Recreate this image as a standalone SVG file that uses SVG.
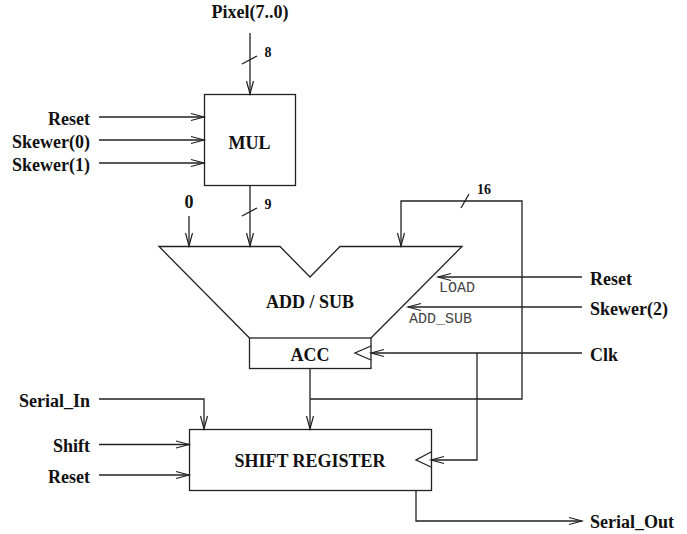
<svg xmlns="http://www.w3.org/2000/svg" width="687" height="534" viewBox="0 0 687 534">
<style>
.l{font-family:"Liberation Serif","Times New Roman",serif;font-weight:bold;font-size:18px;fill:#111}
.e{text-anchor:end}
.m{text-anchor:middle}
.s{font-size:14px}
.c{font-family:"Liberation Mono","Courier New",monospace;font-size:15px;fill:#444;font-weight:normal}
.w{fill:none;stroke:#222;stroke-width:1.3}
</style>
<defs>
<marker id="a" markerUnits="userSpaceOnUse" markerWidth="16" markerHeight="14" refX="13" refY="6" orient="auto" overflow="visible"><path d="M0 2.500L13 6L0 9.500" fill="none" stroke="#222" stroke-width="1.2"/></marker>
</defs>
<g id="connectors">
<path class="w" d="M250 33V94" marker-end="url(#a)"/>
<path class="w" d="M242 64L257 56"/>
<path class="w" d="M99 117H204" marker-end="url(#a)"/>
<path class="w" d="M99 140H204" marker-end="url(#a)"/>
<path class="w" d="M99 163H204" marker-end="url(#a)"/>
<path class="w" d="M250 185V246" marker-end="url(#a)"/>
<path class="w" d="M242 216L257 208"/>
<path class="w" d="M189 216V246" marker-end="url(#a)"/>
<path class="w" d="M310 399H522V201H401V246" marker-end="url(#a)"/>
<path class="w" d="M461 208L469 194"/>
<path class="w" d="M582 277H438" marker-end="url(#a)"/>
<path class="w" d="M582 307H408" marker-end="url(#a)"/>
<path class="w" d="M582 353H371" marker-end="url(#a)"/>
<path class="w" d="M477 353V460H431" marker-end="url(#a)"/>
<path class="w" d="M310 368V429" marker-end="url(#a)"/>
<path class="w" d="M99 399H204V429" marker-end="url(#a)"/>
<path class="w" d="M99 444.500H189" marker-end="url(#a)"/>
<path class="w" d="M99 475H189" marker-end="url(#a)"/>
<path class="w" d="M416 490V521H582" marker-end="url(#a)"/>
</g>
<g id="mul"><rect class="w" x="204.500" y="94.500" width="91" height="91"/><text class="l m" x="249.500" y="149">MUL</text></g>
<g id="addsub"><path class="w" d="M249.500 338L159 246.500H280L310 277L340 246.500H462L371 338"/><text class="l m" x="310" y="308">ADD / SUB</text></g>
<g id="acc"><rect class="w" x="249.500" y="338" width="121.500" height="30.500"/><path class="w" d="M371 346L355 353L371 360"/><text class="l m" x="310" y="361">ACC</text></g>
<g id="shiftreg"><rect class="w" x="189.500" y="429.500" width="242" height="61"/><path class="w" d="M431 452L416 460L431 467"/><text class="l m" x="310" y="467">SHIFT REGISTER</text></g>
<g id="labels">
<text class="l m" x="250" y="18">Pixel(7..0)</text>
<text class="l s m" x="268" y="57">8</text>
<text class="l s m" x="268" y="209">9</text>
<text class="l m" x="189" y="208">0</text>
<text class="l s m" x="484" y="194">16</text>
<text class="l e" x="90" y="125">Reset</text>
<text class="l e" x="90" y="148">Skewer(0)</text>
<text class="l e" x="90" y="171">Skewer(1)</text>
<text class="l e" x="90" y="407">Serial_In</text>
<text class="l e" x="90" y="452">Shift</text>
<text class="l e" x="90" y="483">Reset</text>
<text class="l" x="590" y="285">Reset</text>
<text class="l" x="590" y="315">Skewer(2)</text>
<text class="l" x="590" y="361">Clk</text>
<text class="l" x="590" y="528">Serial_Out</text>
<text class="c" x="439" y="292">LOAD</text>
<text class="c" x="409" y="323">ADD_SUB</text>
</g>
</svg>
